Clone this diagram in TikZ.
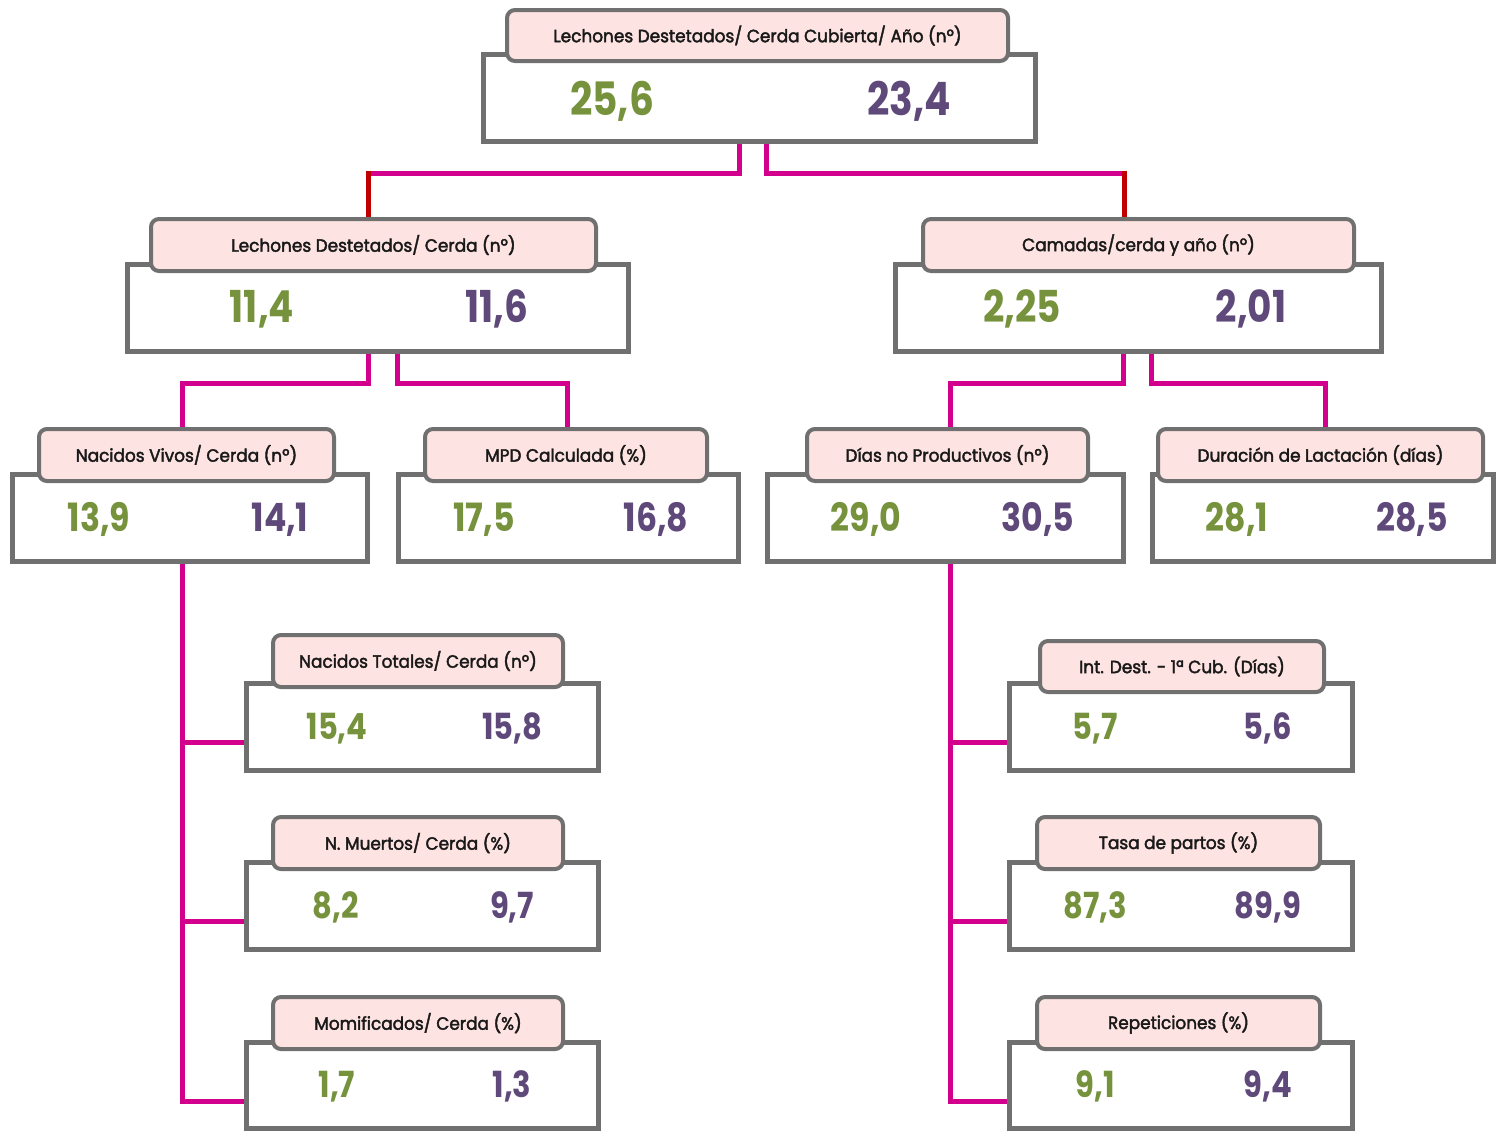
\documentclass[tikz,border=0pt]{standalone}
\usepackage{fontspec}
\setmainfont{Poppins}
\newfontfamily\numfont{Poppins}[FakeStretch=0.85]
\newfontfamily\labfont{Poppins}[FakeStretch=0.95, FakeBold=2.2]
\usetikzlibrary{fit,calc}
\definecolor{boxgray}{HTML}{707070}
\definecolor{labpink}{HTML}{FDE3E1}
\definecolor{mag}{HTML}{D2008C}
\definecolor{darkred}{HTML}{C00000}
\definecolor{numgreen}{HTML}{76923C}
\definecolor{numpurple}{HTML}{5F497A}
\begin{document}
\begin{tikzpicture}[x=0.5pt,y=-0.5pt,
  outerbox/.style={draw=boxgray, line width=2.5pt, fill=white, inner sep=0pt},
  labbox/.style={draw=boxgray, line width=2pt, fill=labpink, rounded corners=4pt, inner sep=0pt},
  labtext/.style={font=\labfont\fontsize{8.9}{10}\selectfont, text=black!90, inner sep=0pt},
  conn/.style={draw=mag, line width=2.5pt},
  redconn/.style={draw=darkred, line width=2.5pt},
  ng/.style={anchor=base, text=numgreen},
  np/.style={anchor=base, text=numpurple},
  nA/.style={font=\numfont\bfseries\fontsize{23}{24}\selectfont},
  nB/.style={font=\numfont\bfseries\fontsize{22}{23}\selectfont},
  nC/.style={font=\numfont\bfseries\fontsize{19.5}{21}\selectfont},
  nD/.style={font=\numfont\bfseries\fontsize{18}{19}\selectfont}]
\useasboundingbox (0,0) rectangle (1503,1131);

% ---- top
\node[outerbox, fit={(483,54) (1035,141)}] (o1) {};
\node[labbox, fit={(507,10) (1008,61)}, label={[labtext]center:Lechones Destetados/ Cerda Cubierta/ Año (nº)}] (l1) {};
\node[ng,nA] (v1a) at (612,115) {25,6};
\node[np,nA] (v1b) at (909,115) {23,4};

% ---- level 2
\node[outerbox, fit={(127,264) (628,351)}] (o2a) {};
\node[labbox, fit={(151,219) (596,271)}, label={[labtext]center:Lechones Destetados/ Cerda (nº)}] (l2a) {};
\node[ng,nB] (v2a1) at (262,322) {11,4};
\node[np,nB] (v2a2) at (497,322) {11,6};

\node[outerbox, fit={(895,264) (1381,351)}] (o2b) {};
\node[labbox, fit={(923,219) (1354,271)}, label={[labtext]center:Camadas/cerda y año (nº)}] (l2b) {};
\node[ng,nB] (v2b1) at (1022,322) {2,25};
\node[np,nB] (v2b2) at (1251,322) {2,01};

% ---- level 3
\node[outerbox, fit={(12,474) (367,561)}] (o3a) {};
\node[labbox, fit={(39,429) (334,481)}, label={[labtext]center:Nacidos Vivos/ Cerda (nº)}] (l3a) {};
\node[ng,nC] (v3a1) at (99,531) {13,9};
\node[np,nC] (v3a2) at (280,531) {14,1};

\node[outerbox, fit={(398,474) (738,561)}] (o3b) {};
\node[labbox, fit={(425,429) (707,481)}, label={[labtext]center:MPD Calculada (\%)}] (l3b) {};
\node[ng,nC] (v3b1) at (484,531) {17,5};
\node[np,nC] (v3b2) at (656,531) {16,8};

\node[outerbox, fit={(767,474) (1123,561)}] (o3c) {};
\node[labbox, fit={(807,429) (1088,481)}, label={[labtext]center:Días no Productivos (nº)}] (l3c) {};
\node[ng,nC] (v3c1) at (866,531) {29,0};
\node[np,nC] (v3c2) at (1038,531) {30,5};

\node[outerbox, fit={(1152,474) (1493,561)}] (o3d) {};
\node[labbox, fit={(1158,429) (1483,481)}, label={[labtext]center:Duración de Lactación (días)}] (l3d) {};
\node[ng,nC] (v3d1) at (1237,531) {28,1};
\node[np,nC] (v3d2) at (1412,531) {28,5};

% ---- level 4 left
\node[outerbox, fit={(246,683) (598,770)}] (o4a) {};
\node[labbox, fit={(273,635) (563,687)}, label={[labtext]center:Nacidos Totales/ Cerda (nº)}] (l4a) {};
\node[ng,nD] (v4a1) at (337,739) {15,4};
\node[np,nD] (v4a2) at (512,739) {15,8};

\node[outerbox, fit={(246,862) (598,949)}] (o4b) {};
\node[labbox, fit={(273,817) (563,869)}, label={[labtext]center:N. Muertos/ Cerda (\%)}] (l4b) {};
\node[ng,nD] (v4b1) at (336,918) {8,2};
\node[np,nD] (v4b2) at (512,918) {9,7};

\node[outerbox, fit={(246,1042) (598,1128)}] (o4c) {};
\node[labbox, fit={(273,997) (563,1049)}, label={[labtext]center:Momificados/ Cerda (\%)}] (l4c) {};
\node[ng,nD] (v4c1) at (337,1097) {1,7};
\node[np,nD] (v4c2) at (512,1097) {1,3};

% ---- level 4 right
\node[outerbox, fit={(1009,683) (1352,770)}] (o4d) {};
\node[labbox, fit={(1040,641) (1324,692)}, label={[labtext]center:Int. Dest. - 1ª Cub. (Días)}] (l4d) {};
\node[ng,nD] (v4d1) at (1095,739) {5,7};
\node[np,nD] (v4d2) at (1268,739) {5,6};

\node[outerbox, fit={(1009,862) (1352,949)}] (o4e) {};
\node[labbox, fit={(1037,817) (1320,869)}, label={[labtext]center:Tasa de partos (\%)}] (l4e) {};
\node[ng,nD] (v4e1) at (1095,918) {87,3};
\node[np,nD] (v4e2) at (1268,918) {89,9};

\node[outerbox, fit={(1009,1042) (1352,1128)}] (o4f) {};
\node[labbox, fit={(1037,997) (1320,1049)}, label={[labtext]center:Repeticiones (\%)}] (l4f) {};
\node[ng,nD] (v4f1) at (1095,1097) {9,1};
\node[np,nD] (v4f2) at (1268,1097) {9,4};

% ---- connectors top
\coordinate (j1) at (368,173);
\coordinate (j2) at (1124,173);
\draw[conn] ($(o1.south)+(-20,0)$) |- (j1);
\draw[conn] ($(o1.south)+(7,0)$) |- (j2);
\draw[redconn] ($(j1)+(0,-2.5)$) -- (j1 |- l2a.north);
\draw[redconn] ($(j2)+(0,-2.5)$) -- (j2 |- l2b.north);

% ---- connectors level 2
\draw[conn] ($(o2a.south)+(-9.5,0)$) -- ++(0,30) -| ($(l3a.north)+(-4.5,0)$);
\draw[conn] ($(o2a.south)+(19.5,0)$) -- ++(0,30) -| ($(l3b.north)+(1,0)$);
\draw[conn] ($(o2b.south)+(-15,0)$) -- ++(0,30) -| ($(l3c.north)+(2.5,0)$);
\draw[conn] ($(o2b.south)+(13,0)$) -- ++(0,30) -| ($(l3d.north)+(4.5,0)$);

% ---- trunks
\coordinate (t1) at ($(o3a.south)+(-7.5,0)$);
\coordinate (b1) at ($(o4a.west)+(0,16)$);
\coordinate (b2) at ($(o4b.west)+(0,16)$);
\coordinate (b3) at ($(o4c.west)+(0,16)$);
\draw[conn] (t1) |- (b3);
\draw[conn] (t1 |- b1) -- (b1);
\draw[conn] (t1 |- b2) -- (b2);

\coordinate (t2) at ($(o3c.south)+(5,0)$);
\coordinate (b4) at ($(o4d.west)+(0,16)$);
\coordinate (b5) at ($(o4e.west)+(0,16)$);
\coordinate (b6) at ($(o4f.west)+(0,16)$);
\draw[conn] (t2) |- (b6);
\draw[conn] (t2 |- b4) -- (b4);
\draw[conn] (t2 |- b5) -- (b5);
\end{tikzpicture}
\end{document}
